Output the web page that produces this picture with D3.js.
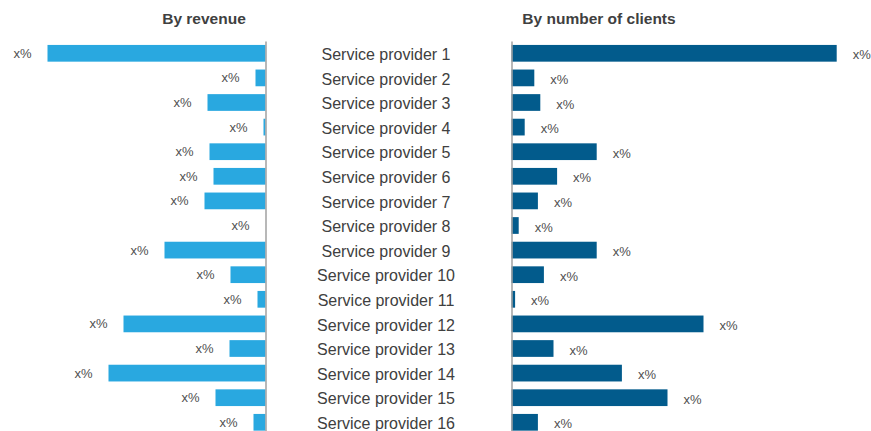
<!DOCTYPE html>
<html>
<head>
<meta charset="utf-8">
<script src="https://cdn.jsdelivr.net/npm/d3@7"></script>
<style>
  html, body { margin: 0; padding: 0; background: #fff; }
  svg { display: block; font-family: "Liberation Sans", Arial, sans-serif; }
</style>
</head>
<body>
<svg id="chart"></svg>
<script>
const width = 871, height = 431;

const providers = d3.range(1, 17).map(i => `Service provider ${i}`);
// share of revenue (%)
const revenue = [21.8, 1.0, 5.8, 0.2, 5.6, 5.2, 6.1, 0, 10.1, 3.5, 0.8, 14.2, 3.6, 15.7, 5.0, 1.2];
// share of clients (%)
const clients = [27.1, 1.9, 2.4, 1.1, 7.1, 3.8, 2.2, 0.6, 7.1, 2.7, 0.3, 16.0, 3.5, 9.2, 13.0, 2.2];
const valueLabel = "x%";
const titles = ["By revenue", "By number of clients"];

const leftAxisX = 265.5, rightAxisX = 511.5, centerX = 386;

const svg = d3.select("#chart")
  .attr("width", width)
  .attr("height", height);

const y = d3.scaleBand()
  .domain(providers)
  .range([41, 41 + 16 * 24.6])
  .paddingInner(0.32)
  .paddingOuter(0.16);

const xLeft = d3.scaleLinear().domain([0, 25]).range([leftAxisX, leftAxisX - 250]);
const xRight = d3.scaleLinear().domain([0, 30]).range([rightAxisX, rightAxisX + 360]);

const rows = providers.map((p, i) => ({p, rev: revenue[i], cli: clients[i]}));

// titles
svg.append("text")
  .attr("x", 204).attr("y", 24)
  .attr("text-anchor", "middle")
  .attr("font-size", 15.5).attr("font-weight", "bold")
  .attr("fill", "#404040")
  .text(titles[0]);
svg.append("text")
  .attr("x", 599).attr("y", 24)
  .attr("text-anchor", "middle")
  .attr("font-size", 15.5).attr("font-weight", "bold")
  .attr("fill", "#404040")
  .text(titles[1]);

// left bars
svg.append("g").selectAll("rect")
  .data(rows)
  .join("rect")
  .attr("x", d => xLeft(d.rev))
  .attr("y", d => y(d.p))
  .attr("width", d => xLeft(0) - xLeft(d.rev))
  .attr("height", y.bandwidth())
  .attr("fill", "#29a8e0");

svg.append("g").selectAll("text")
  .data(rows)
  .join("text")
  .attr("x", d => xLeft(d.rev) - 16)
  .attr("y", d => y(d.p) + y.bandwidth() / 2)
  .attr("dy", "0.35em")
  .attr("text-anchor", "end")
  .attr("font-size", 13)
  .attr("fill", "#505050")
  .text(valueLabel);

// right bars
svg.append("g").selectAll("rect")
  .data(rows)
  .join("rect")
  .attr("x", xRight(0))
  .attr("y", d => y(d.p))
  .attr("width", d => xRight(d.cli) - xRight(0))
  .attr("height", y.bandwidth())
  .attr("fill", "#025b8c");

svg.append("g").selectAll("text")
  .data(rows)
  .join("text")
  .attr("x", d => xRight(d.cli) + 16)
  .attr("y", d => y(d.p) + y.bandwidth() / 2 + 1.5)
  .attr("dy", "0.35em")
  .attr("font-size", 13)
  .attr("fill", "#505050")
  .text(valueLabel);

// vertical baselines
[leftAxisX, rightAxisX].forEach(x => {
  const g = svg.append("g")
    .attr("transform", `translate(${x},0)`)
    .call(d3.axisRight(y).tickValues([]).tickSizeOuter(0));
  g.select(".domain").attr("stroke", "#a0a0a0").attr("stroke-width", 1.5);
});

// category labels in the middle
const mid = svg.append("g")
  .attr("transform", `translate(${centerX},1.5)`)
  .call(d3.axisRight(y).tickSize(0).tickPadding(0));
mid.select(".domain").remove();
mid.selectAll("text")
  .attr("text-anchor", "middle")
  .attr("font-family", "\"Liberation Sans\", Arial, sans-serif")
  .attr("font-size", 16)
  .attr("fill", "#404040");
</script>
</body>
</html>
